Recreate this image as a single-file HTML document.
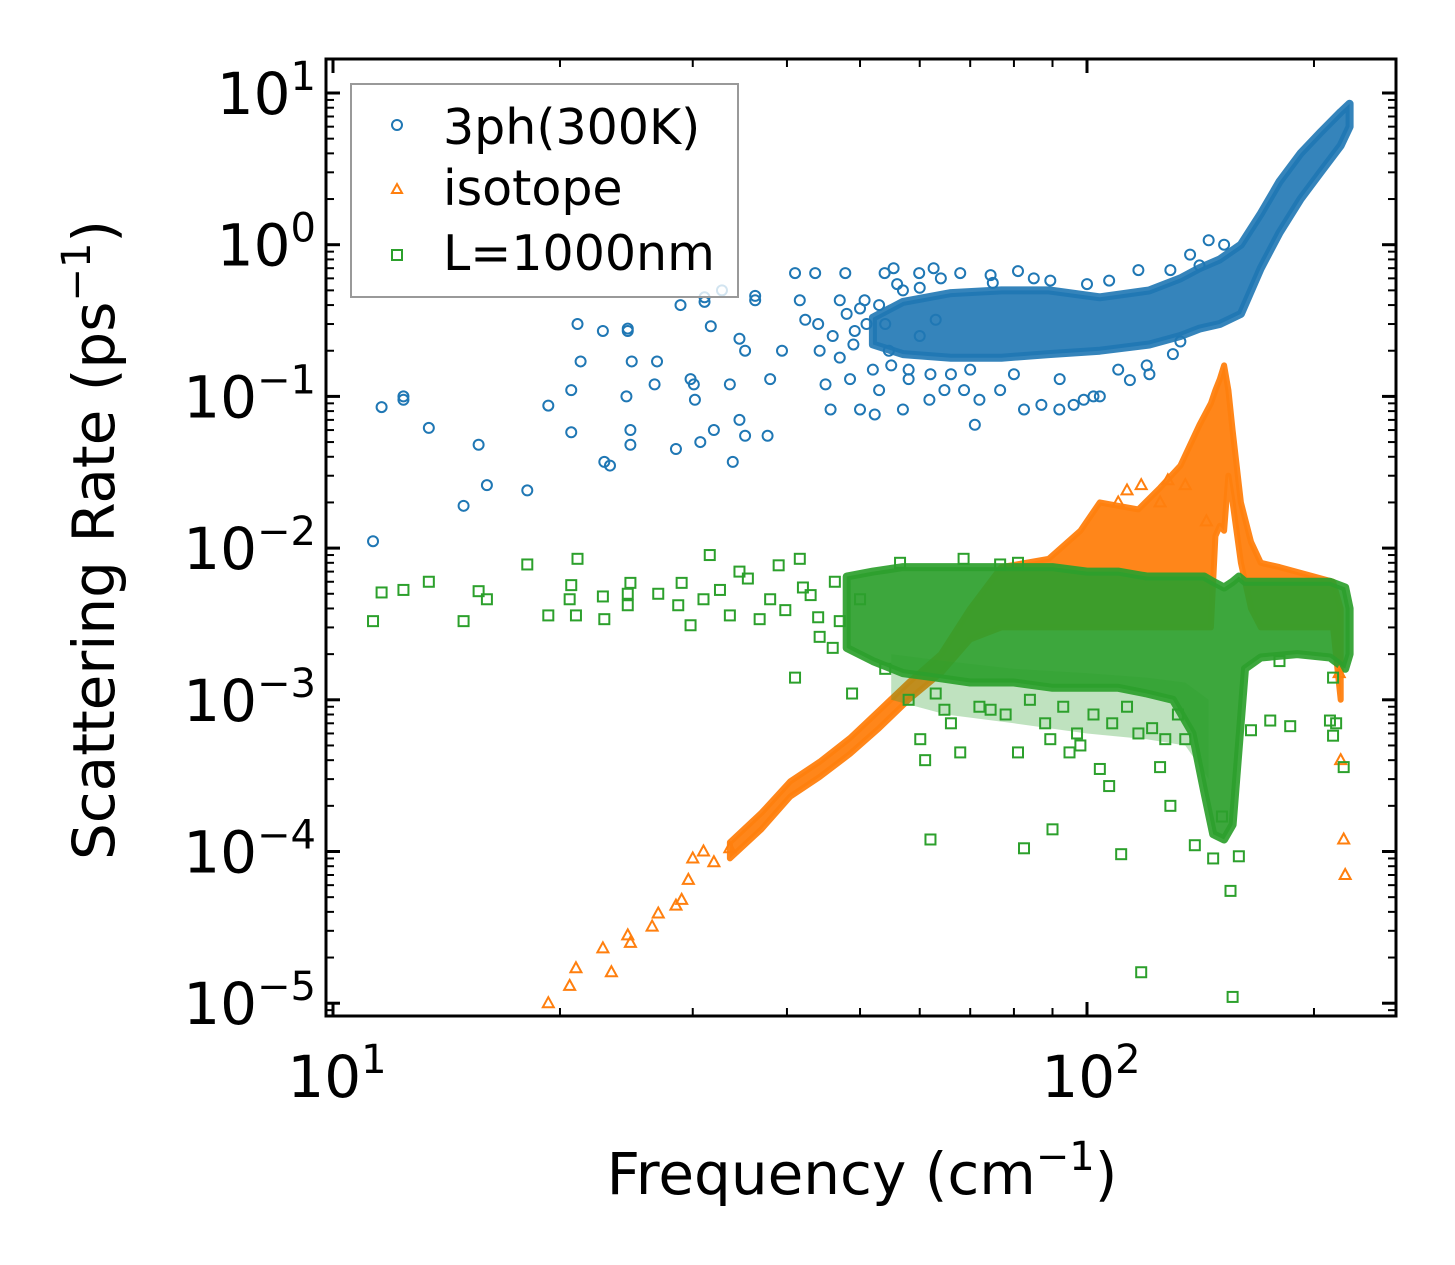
<!DOCTYPE html>
<html><head><meta charset="utf-8"><style>
html,body{margin:0;padding:0;background:#fff}
svg{display:block;font-family:"DejaVu Sans","Liberation Sans",sans-serif}
</style></head><body>
<svg id="chart" width="1455" height="1265" viewBox="0 0 1455 1265" xmlns="http://www.w3.org/2000/svg">
<rect width="1455" height="1265" fill="#fff"/>
<g id="bands"></g>
<g id="marks"></g>
<g id="axes"></g>
<g>
<rect x="351" y="84" width="387" height="213" fill="#fff" fill-opacity="0.8" stroke="#999" stroke-width="2"/>
<circle cx="397" cy="125" r="5" fill="none" stroke="#1f77b4" stroke-width="2"/>
<text x="443" y="144" font-size="49">3ph(300K)</text>
<polygon points="397,184 402,193 392,193" fill="none" stroke="#ff7f0e" stroke-width="2"/>
<text x="443" y="205" font-size="49">isotope</text>
<rect x="392" y="250" width="10" height="10" fill="none" stroke="#2ca02c" stroke-width="2"/>
<text x="443" y="270" font-size="49">L=1000nm</text>
</g>
<text x="862" y="1194" font-size="58" text-anchor="middle">Frequency (cm<tspan dy="-24" font-size="40">−1</tspan><tspan dy="24">)</tspan></text>
<text transform="translate(114,540) rotate(-90)" font-size="58" text-anchor="middle">Scattering Rate (ps<tspan dy="-24" font-size="40">−1</tspan><tspan dy="24">)</tspan></text>
</svg>
<script>
// ---- data ----
const blueF=[11.3,11.6,12.4,12.4,13.4,14.9,15.6,16.0,18.1,19.3,20.7,20.7,21.1,21.3,22.9,23.3,22.8,24.5,24.6,24.6,24.8,24.8,24.9,26.9,26.7,28.5,28.9,29.8,30.1,30.2,30.7,31.1,31.1,31.7,32,32.8,33.6,33.9,34.6,35.2,36.3,36.3,34.6,37.7,38,35.2,39.4,41,41.6,42.3,43.6,44.2,45,45.7,47,47.8,48.5,49.2,50,50.7,52.3,53,53.9,54.6,55.4,57,58,59.9,61.8,62.6,64.7,67.9,68.7,71,72,74.5,76.7,81,82.5,87,89.4,91.9,96,99,102,104,107,114,117,121,129,130,137,141,145,152,133,44,46,48,49,51,53,55,56,58,60,62,64,66,70,75,80,85,92,100,110,120,47,50,52,54,57,60,63];
const blueR=[0.0111,0.085,0.1,0.095,0.062,0.019,0.048,0.026,0.024,0.087,0.11,0.058,0.3,0.17,0.037,0.035,0.27,0.1,0.28,0.27,0.06,0.048,0.17,0.17,0.12,0.045,0.4,0.13,0.12,0.095,0.05,0.45,0.42,0.29,0.06,0.5,0.12,0.037,0.07,0.055,0.43,0.46,0.24,0.055,0.13,0.2,0.2,0.65,0.43,0.32,0.65,0.2,0.12,0.082,0.43,0.65,0.13,0.27,0.082,0.43,0.076,0.11,0.65,0.2,0.7,0.082,0.13,0.65,0.095,0.7,0.11,0.65,0.11,0.065,0.095,0.63,0.11,0.67,0.082,0.088,0.58,0.082,0.088,0.095,0.1,0.1,0.58,0.128,0.68,0.14,0.68,0.19,0.86,0.73,1.07,1.0,0.23,0.3,0.25,0.35,0.22,0.3,0.4,0.16,0.55,0.15,0.52,0.14,0.6,0.14,0.15,0.56,0.14,0.6,0.13,0.55,0.15,0.16,0.18,0.38,0.15,0.3,0.5,0.25,0.32,0.55];
const blueBandF=[52,57,66,77,89,104,121,133,141,150,160,170,180,192,204,217,223];
const blueBandLo=[0.22,0.19,0.18,0.18,0.19,0.2,0.22,0.25,0.28,0.3,0.35,0.7,1.2,2.0,3.0,4.5,6];
const blueBandHi=[0.33,0.42,0.48,0.5,0.5,0.45,0.5,0.6,0.7,0.8,1.0,1.6,2.6,4.0,5.5,7.5,8.5];

const isoF=[19.3,20.6,21,22.8,23.4,24.6,24.8,27,26.5,28.5,29,29.6,30,31,32,33.6,216,217,219,220,110,118,128,135,144,113,125];
const isoR=[1.0e-5,1.3e-5,1.7e-5,2.3e-5,1.6e-5,2.8e-5,2.5e-5,3.9e-5,3.2e-5,4.4e-5,4.8e-5,6.5e-5,9e-5,1e-4,8.5e-5,1.05e-4,1.5e-3,4e-4,1.2e-4,7e-5,0.02,0.026,0.028,0.026,0.015,0.024,0.02];
const isoBandF=[33.6,37,40.4,44.2,48.5,53,58,64,70,77,89,98,104,110,117,125,133,141,146,148,150,152,154,156,160,165,170,180,200,212,217];
const isoBandLo=[0.9e-4,1.4e-4,2.3e-4,3.1e-4,4.4e-4,6.5e-4,1.0e-3,1.5e-3,2.5e-3,3e-3,3e-3,3e-3,3e-3,3e-3,3e-3,3e-3,3e-3,3e-3,3e-3,0.012,0.014,0.013,0.03,0.02,0.008,0.004,0.003,0.003,0.003,0.003,0.001];
const isoBandHi=[1.15e-4,1.8e-4,2.9e-4,3.9e-4,5.6e-4,8.5e-4,1.3e-3,2e-3,4e-3,7.5e-3,8.5e-3,1.3e-2,0.02,0.019,0.018,0.025,0.035,0.065,0.09,0.11,0.13,0.16,0.11,0.06,0.02,0.011,0.008,0.0075,0.0065,0.006,0.004];

const grnF=[11.3,11.6,12.4,13.4,14.9,15.6,16,18.1,19.3,20.6,20.7,21,21.1,22.9,22.8,24.6,24.6,24.8,27,28.7,29,29.8,31,31.6,32.6,33.6,34.6,35.5,36.8,38,39,39.8,41,41.6,43,44.2,46.3,47,48.8,50,60.1,61,62,64.7,67.9,74.5,82.5,81,89.4,94.8,90,98,104,107,111,118,125,129,135,139,147,155,156,159,151,165,175,186,210,212,219,214,212,180,56.5,68.6,76.7,81,58,63,66,72,78,84,88,93,97,102,108,113,117,122,127,132,54,44,46,42];
const grnR=[3.3e-3,5.1e-3,5.3e-3,6e-3,3.3e-3,5.2e-3,4.6e-3,7.8e-3,3.6e-3,4.6e-3,5.7e-3,3.6e-3,8.5e-3,3.4e-3,4.8e-3,5e-3,4.2e-3,5.9e-3,5e-3,4.2e-3,5.9e-3,3.1e-3,4.6e-3,9e-3,5.3e-3,3.6e-3,7e-3,6.3e-3,3.4e-3,4.6e-3,7.7e-3,3.9e-3,1.4e-3,8.5e-3,4.9e-3,2.6e-3,6e-3,3.3e-3,1.1e-3,4.6e-3,5.5e-4,4e-4,1.2e-4,8.6e-4,4.5e-4,8.6e-4,1.05e-4,4.5e-4,5.5e-4,4.5e-4,1.4e-4,5e-4,3.5e-4,2.7e-4,9.6e-5,1.6e-5,3.6e-4,2e-4,5.5e-4,1.1e-4,9e-5,5.5e-5,1.1e-5,9.3e-5,1.7e-4,6.3e-4,7.3e-4,6.7e-4,7.3e-4,5.8e-4,3.6e-4,7e-4,1.4e-3,1.8e-3,8e-3,8.5e-3,7.8e-3,8e-3,1e-3,1.1e-3,7e-4,9e-4,8e-4,1e-3,7e-4,9e-4,6e-4,8e-4,7e-4,9e-4,6e-4,6.5e-4,5.5e-4,8e-4,1.6e-3,3.5e-3,2.2e-3,5.5e-3];
const grnBandF=[48,52,57,63,70,80,90,100,110,120,130,138,143,147,152,156,159,162,170,190,210,220,223];
const grnBandLo=[2.2e-3,1.8e-3,1.5e-3,1.4e-3,1.3e-3,1.3e-3,1.2e-3,1.2e-3,1.2e-3,1.1e-3,1e-3,6e-4,2.5e-4,1.3e-4,1.2e-4,1.5e-4,5e-4,1.6e-3,1.9e-3,2e-3,1.9e-3,1.6e-3,2e-3];
const grnBandHi=[6.5e-3,7e-3,7.5e-3,7.5e-3,7.5e-3,7.5e-3,7.5e-3,7e-3,7e-3,6.5e-3,6.5e-3,6.5e-3,6.5e-3,6e-3,5.5e-3,6e-3,6.5e-3,6e-3,6e-3,6e-3,6e-3,5.5e-3,4e-3];
const grnOuterF=[55,65,80,100,120,135,145];
const grnOuterLo=[1.0e-3,8e-4,7e-4,6e-4,5.5e-4,5e-4,3e-4];
const grnOuterHi=[2e-3,1.8e-3,1.6e-3,1.5e-3,1.4e-3,1.3e-3,1e-3];

const xMajor=[10,100];
const xMajorLabels=["1","2"];
const yMajor=[10,1,0.1,0.01,0.001,0.0001,0.00001];
const yMajorLabels=["1","0","−1","−2","−3","−4","−5"];

// ---- scales ----
const L=326,R=1396,T=59,B=1016;
const X0=333,XD=754,Y0=93,YD=151.7;
function xs(f){return X0+(Math.log10(f)-1)*XD;}
function ys(r){return Y0+(1-Math.log10(r))*YD;}
const NS="http://www.w3.org/2000/svg";
function mk(tag,parent){const e=document.createElementNS(NS,tag);parent.appendChild(e);return e;}
const bands=document.getElementById('bands'),marks=document.getElementById('marks'),axes=document.getElementById('axes');

function band(F,Lo,Hi,color,op,name,sw){
  let d="M"+F.map((f,i)=>xs(f).toFixed(1)+","+ys(Hi[i]).toFixed(1)).join(" L");
  for(let i=F.length-1;i>=0;i--) d+=" L"+xs(F[i]).toFixed(1)+","+ys(Lo[i]).toFixed(1);
  d+=" Z";
  const p=mk('path',bands);
  
  
  p.setAttribute('d',d);p.setAttribute('fill',color);p.setAttribute('fill-opacity',op);
  p.setAttribute('stroke',color);p.setAttribute('stroke-opacity',op);p.setAttribute('stroke-width',sw);p.setAttribute('stroke-linejoin','round');
}
band(blueBandF,blueBandLo,blueBandHi,'#1f77b4',0.9,'3ph-dense-band',8);
band(isoBandF,isoBandLo,isoBandHi,'#ff7f0e',0.95,'isotope-dense-band',6);
band(grnOuterF,grnOuterLo,grnOuterHi,'#2ca02c',0.3,'boundary-sparse-band',0);
band(grnBandF,grnBandLo,grnBandHi,'#2ca02c',0.92,'boundary-dense-band',8);

blueF.forEach((f,i)=>{const c=mk('circle',marks);
  
  
  c.setAttribute('cx',xs(f));c.setAttribute('cy',ys(blueR[i]));c.setAttribute('r',5);
  c.setAttribute('fill','none');c.setAttribute('stroke','#1f77b4');c.setAttribute('stroke-width',2);});
isoF.forEach((f,i)=>{const x=xs(f),y=ys(isoR[i]);const p=mk('polygon',marks);
  
  
  p.setAttribute('points',`${x},${y-6} ${x+5.5},${y+4} ${x-5.5},${y+4}`);
  p.setAttribute('fill','none');p.setAttribute('stroke','#ff7f0e');p.setAttribute('stroke-width',2);});
grnF.forEach((f,i)=>{const x=xs(f),y=ys(grnR[i]);const p=mk('rect',marks);
  
  
  p.setAttribute('x',x-5);p.setAttribute('y',y-5);p.setAttribute('width',10);p.setAttribute('height',10);
  p.setAttribute('fill','none');p.setAttribute('stroke','#2ca02c');p.setAttribute('stroke-width',2);});

// ---- axes ----
function line(x1,y1,x2,y2,w,name){const l=mk('line',axes);
  
  
  l.setAttribute('x1',x1);l.setAttribute('y1',y1);l.setAttribute('x2',x2);l.setAttribute('y2',y2);
  l.setAttribute('stroke','#000');l.setAttribute('stroke-width',w);}
for(let d=1;d<=2;d++){for(let m=1;m<=9;m++){const f=m*Math.pow(10,d);const x=xs(f);if(x<L||x>R)continue;
  const len=m===1?14:8,w=m===1?3:2;
  line(x,B,x,B-len,w,'x-tick');line(x,T,x,T+len,w,'x-tick-top');}}
for(let d=-6;d<=1;d++){for(let m=1;m<=9;m++){const r=m*Math.pow(10,d);const y=ys(r);if(y<T||y>B)continue;
  const len=m===1?14:8,w=m===1?3:2;
  line(L,y,L+len,y,w,'y-tick');line(R,y,R-len,y,w,'y-tick-right');}}
const fr=mk('rect',axes);


fr.setAttribute('x',L);fr.setAttribute('y',T);fr.setAttribute('width',R-L);fr.setAttribute('height',B-T);
fr.setAttribute('fill','none');fr.setAttribute('stroke','#000');fr.setAttribute('stroke-width',3);

function powLabel(x,y,exp,anchor,name){const t=mk('text',axes);
  
  
  t.setAttribute('x',x);t.setAttribute('y',y);t.setAttribute('font-size',58);t.setAttribute('text-anchor',anchor);
  t.textContent='10';const s=document.createElementNS(NS,'tspan');s.setAttribute('dy',-24);s.setAttribute('font-size',40);
  s.textContent=exp;t.appendChild(s);}
xMajor.forEach((v,i)=>powLabel(xs(v)+4,1097,xMajorLabels[i],'middle','x-tick-label'));
yMajor.forEach((v,i)=>powLabel(316,ys(v)+21,yMajorLabels[i],'end','y-tick-label'));
</script>
</body></html>
